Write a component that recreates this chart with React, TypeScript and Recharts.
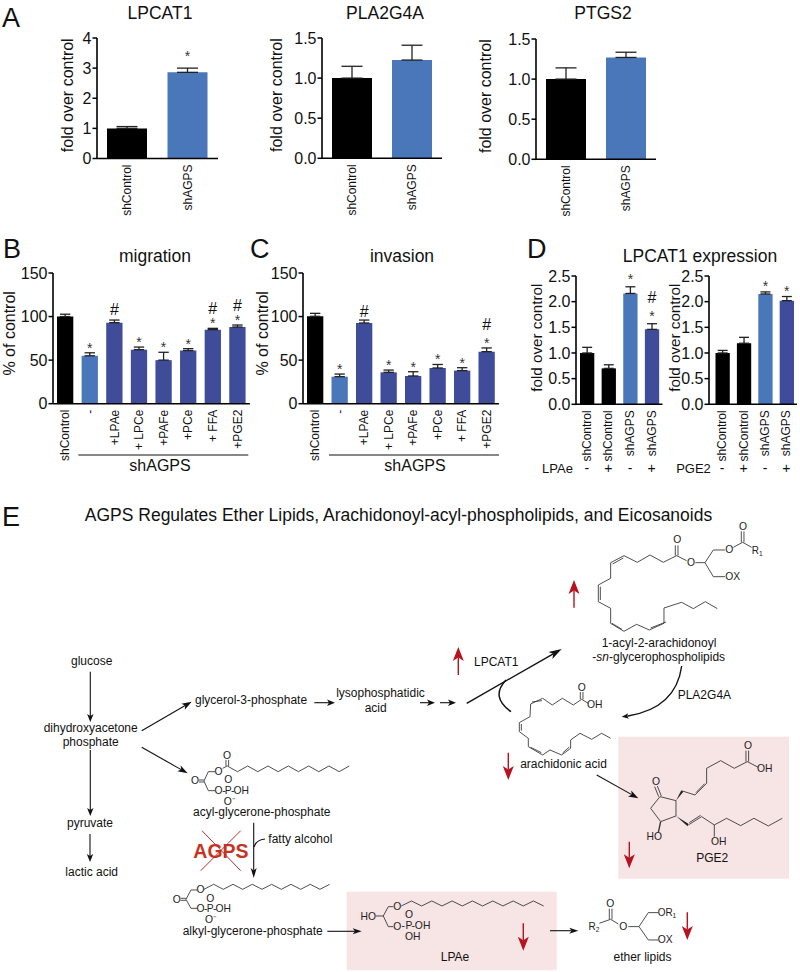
import React from "react";
import {
  Bar,
  BarChart,
  Cell,
  ErrorBar,
  LabelList,
  XAxis,
  YAxis,
} from "recharts";

const FONT = '"Liberation Sans", Arial, sans-serif';
const BLACK = "#000000";
const BLUE = "#4a77b9";
const PURPLE = "#3f4c9a";
const RED = "#b4131f";

// panel A
const controlNames = ["shControl", "shAGPS"];
const lpcat1Values = [1.0, 2.86];
const lpcat1Errors = [0.06, 0.14];
const lpcat1Marks = ["", "*"];
const pla2g4aValues = [1.0, 1.225];
const pla2g4aErrors = [0.147, 0.185];
const ptgs2Values = [1.0, 1.27];
const ptgs2Errors = [0.14, 0.065];
const twoMarks = ["", ""];
const twoColors = [BLACK, BLUE];

// panels B and C
const treatmentNames = ["shControl", "-", "+LPAe", "+ LPCe", "+PAFe", "+PCe", "+ FFA", "+PGE2"];
const treatmentColors = [BLACK, BLUE, PURPLE, PURPLE, PURPLE, PURPLE, PURPLE, PURPLE];
const migrationValues = [100, 55, 93, 62, 50, 61, 85, 88];
const migrationErrors = [2.7, 3.4, 3, 3, 9, 2.2, 1.5, 2.3];
const migrationMarks = ["", "*", "#", "*", "*", "*", "*#", "*#"];
const invasionValues = [100.3, 31, 92.6, 36, 31.8, 41, 38, 59.7];
const invasionErrors = [3.4, 3, 3.4, 2.6, 4.9, 4, 3.3, 4.3];
const invasionMarks = ["", "*", "#", "*", "*", "*", "*", "*#"];

// panel D
const lpcatNames = ["shControl", "shControl", "shAGPS", "shAGPS"];
const lpcatColors = [BLACK, BLACK, BLUE, PURPLE];
const lpaeValues = [1.0, 0.7, 2.16, 1.46];
const lpaeErrors = [0.11, 0.07, 0.13, 0.11];
const lpaeMarks = ["", "", "*", "*#"];
const pge2Values = [1.0, 1.19, 2.15, 2.02];
const pge2Errors = [0.05, 0.115, 0.04, 0.08];
const pge2Marks = ["", "", "*", "*"];
const signs = ["-", "+", "-", "+"];

const foldTicks15 = [0, 0.5, 1, 1.5];
const foldTicks4 = [0, 1, 2, 3, 4];
const percentTicks = [0, 50, 100, 150];
const foldTicks25 = [0, 0.5, 1, 1.5, 2, 2.5];

type PanelProps = {
  axisX: number;
  top: number;
  bottom: number;
  right: number;
  max: number;
  ticks: number[];
  decimals: number;
  names: string[];
  values: number[];
  errors: number[];
  colors: string[];
  marks: string[];
  barWidth: number;
  capWidth: number;
  yLabel: string;
  labelX: number;
  labelDy?: number;
  labelSize?: number;
  padLeft?: number;
  starGap?: number;
  hashGap?: number;
  hashAlone?: number;
  rowSigns?: string[];
};

const AXIS_BOX = 62;
const MARGIN_TOP = 12;
const X_AXIS_HEIGHT = 72;

function Panel(p: PanelProps) {
  const rows = p.names.map((name, i) => ({
    name,
    value: p.values[i],
    err: [0, p.errors[i]],
  }));
  const boxLeft = p.axisX - AXIS_BOX;
  const starGap = p.starGap ?? 8;
  const hashGap = p.hashGap ?? 20;
  const hashAlone = p.hashAlone ?? 11;

  const renderMarks = (l: any) => {
    const mark = p.marks[l.index];
    if (!mark) return null;
    const cx = l.x + l.width / 2;
    const errTop = l.y - (p.errors[l.index] * l.height) / p.values[l.index];
    return (
      <g fontFamily={FONT} textAnchor="middle">
        {mark.includes("*") && (
          <text x={cx} y={errTop - starGap + 8} fontSize={14} fill="#333">
            *
          </text>
        )}
        {mark.includes("#") && (
          <text
            x={cx}
            y={errTop - (mark.includes("*") ? hashGap : hashAlone) + 6}
            fontSize={16}
            fill="#111"
          >
            #
          </text>
        )}
      </g>
    );
  };

  const renderTick = (t: any) => (
    <g>
      <text
        transform={`rotate(-90 ${t.x} ${t.y - 2})`}
        x={t.x}
        y={t.y + 2}
        textAnchor="end"
        fontSize={12}
        fontFamily={FONT}
        fill="#111"
      >
        {t.payload.value}
      </text>
      {p.rowSigns && (
        <text
          x={t.x}
          y={p.bottom - p.top + MARGIN_TOP + 69}
          textAnchor="middle"
          fontSize={14}
          fontFamily={FONT}
          fill="#111"
        >
          {p.rowSigns[t.index]}
        </text>
      )}
    </g>
  );

  return (
    <div
      style={{
        position: "absolute",
        left: boxLeft,
        top: p.top - MARGIN_TOP,
      }}
    >
      <BarChart
        width={p.right - boxLeft}
        height={p.bottom - p.top + MARGIN_TOP + X_AXIS_HEIGHT}
        data={rows}
        margin={{ top: MARGIN_TOP, right: 0, bottom: 0, left: 0 }}
        barSize={p.barWidth}
        barGap={-p.barWidth}
      >
        <XAxis
          dataKey="name"
          interval={0}
          height={X_AXIS_HEIGHT}
          tickLine={false}
          axisLine={{ stroke: BLACK, strokeWidth: 1.6 }}
          tick={renderTick}
          padding={{ left: p.padLeft ?? 0, right: 0 }}
        />
        <YAxis
          width={AXIS_BOX}
          domain={[0, p.max]}
          ticks={p.ticks}
          interval={0}
          tickSize={4.5}
          tickMargin={1}
          tickLine={{ stroke: BLACK, strokeWidth: 1.5 }}
          axisLine={{ stroke: BLACK, strokeWidth: 1.6 }}
          tick={{ fontSize: 16, fontFamily: FONT, fill: "#111" }}
          tickFormatter={(v: number) => v.toFixed(p.decimals)}
          label={{
            value: p.yLabel,
            angle: -90,
            position: "center",
            dx: p.labelX - (boxLeft + AXIS_BOX / 2),
            dy: p.labelDy ?? 0,
            style: { fontSize: p.labelSize ?? 16, fontFamily: FONT, fill: "#111" },
          }}
        />
        <Bar dataKey="value" fill="none" isAnimationActive={false}>
          <ErrorBar
            dataKey="err"
            direction="y"
            width={p.capWidth}
            stroke="#222"
            strokeWidth={1.3}
            isAnimationActive={false}
          />
        </Bar>
        <Bar dataKey="value" isAnimationActive={false}>
          {rows.map((r, i) => (
            <Cell key={i} fill={p.colors[i]} />
          ))}
          <LabelList dataKey="value" content={renderMarks} />
        </Bar>
      </BarChart>
    </div>
  );
}

function Arrow(props: {
  x1: number;
  y1: number;
  x2: number;
  y2: number;
  len?: number;
  wide?: number;
  color?: string;
  sw?: number;
}) {
  const { x1, y1, x2, y2, len = 8, wide = 3.2, color = "#111", sw = 1.1 } = props;
  const d = Math.hypot(x2 - x1, y2 - y1);
  const ux = (x2 - x1) / d;
  const uy = (y2 - y1) / d;
  const bx = x2 - ux * len;
  const by = y2 - uy * len;
  const nx = x2 - ux * len * 0.75;
  const ny = y2 - uy * len * 0.75;
  return (
    <g>
      <line x1={x1} y1={y1} x2={nx} y2={ny} stroke={color} strokeWidth={sw} />
      <polygon
        points={`${x2},${y2} ${bx - uy * wide},${by + ux * wide} ${nx},${ny} ${bx + uy * wide},${by - ux * wide}`}
        fill={color}
      />
    </g>
  );
}

const RedArrow = (p: { x: number; y1: number; y2: number }) => (
  <Arrow x1={p.x} y1={p.y1} x2={p.x} y2={p.y2} len={14} wide={5.5} color={RED} sw={1.4} />
);

const Label = (p: {
  x: number;
  y: number;
  size?: number;
  anchor?: "start" | "middle" | "end";
  children: React.ReactNode;
}) => (
  <text
    x={p.x}
    y={p.y}
    fontSize={p.size ?? 12}
    textAnchor={p.anchor ?? "middle"}
    fill="#111"
  >
    {p.children}
  </text>
);

const Atom = (p: { x: number; y: number; t: string; anchor?: "start" | "middle" }) => (
  <text
    x={p.x}
    y={p.y}
    fontSize={31}
    textAnchor={p.anchor ?? "middle"}
    dominantBaseline="central"
    fill="#222"
  >
    {p.t}
  </text>
);

const Sub = (p: { x: number; y: number; base: string; sub: string }) => (
  <text x={p.x} y={p.y} fontSize={30} textAnchor="middle" dominantBaseline="central" fill="#222">
    {p.base}
    <tspan fontSize={20} dy={7}>
      {p.sub}
    </tspan>
  </text>
);

const Bond = (p: { d: string; w?: number }) => (
  <path d={p.d} fill="none" stroke="#333" strokeWidth={p.w ?? 2.6} strokeLinejoin="round" />
);

const zigzag = (x0: number, y0: number, dx: number, dy: number, n: number) => {
  let d = `M${x0} ${y0}`;
  for (let i = 1; i <= n; i++) d += ` L${x0 + dx * i} ${i % 2 ? y0 + dy : y0}`;
  return d;
};

function Diagram() {
  return (
    <svg
      width={800}
      height={972}
      style={{ position: "absolute", left: 0, top: 0 }}
      fontFamily={FONT}
    >
      <rect x={618.3} y={736.7} width={170.7} height={142} fill="#f7e4e4" />
      <rect x={346.7} y={891.7} width={210} height={78.5} fill="#f7e4e4" />

      {/* panel letters and titles */}
      <Label x={2} y={27} size={27} anchor="start">A</Label>
      <Label x={3} y={258} size={27} anchor="start">B</Label>
      <Label x={250} y={258} size={27} anchor="start">C</Label>
      <Label x={527} y={258} size={27} anchor="start">D</Label>
      <Label x={2} y={526} size={27} anchor="start">E</Label>
      <Label x={160} y={19} size={17.5}>LPCAT1</Label>
      <Label x={385} y={19} size={17.5}>PLA2G4A</Label>
      <Label x={603} y={19} size={17.5}>PTGS2</Label>
      <Label x={155} y={262} size={17.5}>migration</Label>
      <Label x={402} y={262} size={17.5}>invasion</Label>
      <Label x={700} y={262} size={17.5}>LPCAT1 expression</Label>
      <line x1={78.3} y1={455} x2={248.3} y2={455} stroke="#111" strokeWidth={1.2} />
      <line x1={329} y1={455} x2={499} y2={455} stroke="#111" strokeWidth={1.2} />
      <Label x={160} y={471} size={16}>shAGPS</Label>
      <Label x={415} y={471} size={16}>shAGPS</Label>
      <Label x={557.5} y={473} size={13}>LPAe</Label>
      <Label x={693.5} y={473} size={13}>PGE2</Label>

      <Label x={398.5} y={521} size={17.5}>
        AGPS Regulates Ether Lipids, Arachidonoyl-acyl-phospholipids, and Eicosanoids
      </Label>

      {/* pathway text */}
      <Label x={91.7} y={665}>glucose</Label>
      <Label x={90.7} y={732}>dihydroxyacetone</Label>
      <Label x={90.7} y={746}>phosphate</Label>
      <Label x={90} y={827}>pyruvate</Label>
      <Label x={91.7} y={876}>lactic acid</Label>
      <Label x={195} y={703.5} anchor="start">glycerol-3-phosphate</Label>
      <Label x={380.5} y={697}>lysophosphatidic</Label>
      <Label x={375.7} y={712}>acid</Label>
      <Label x={474} y={666} anchor="start">LPCAT1</Label>
      <Label x={659} y={647}>1-acyl-2-arachidonoyl</Label>
      <Label x={658.7} y={661}>
        -<tspan fontStyle="italic">sn</tspan>-glycerophospholipids
      </Label>
      <Label x={677.7} y={698.5} anchor="start">PLA2G4A</Label>
      <Label x={563.5} y={768}>arachidonic acid</Label>
      <Label x={712.3} y={861.5}>PGE2</Label>
      <Label x={261.7} y={816}>acyl-glycerone-phosphate</Label>
      <Label x={268.3} y={843} anchor="start">fatty alcohol</Label>
      <Label x={252.7} y={934.5}>alkyl-glycerone-phosphate</Label>
      <Label x={455} y={960.5}>LPAe</Label>
      <Label x={642.5} y={960.5}>ether lipids</Label>

      {/* AGPS crossed out */}
      <text x={221} y={858} fontSize={19.5} fontWeight="bold" fill="#c8331f" textAnchor="middle">
        AGPS
      </text>
      <line x1={202} y1={830.7} x2={240.7} y2={870.7} stroke="#c0272d" strokeWidth={1} />
      <line x1={240.7} y1={830.7} x2={200.7} y2={870.7} stroke="#c0272d" strokeWidth={1} />

      {/* pathway arrows */}
      <Arrow x1={90.3} y1={671.7} x2={90.3} y2={722} />
      <Arrow x1={141.7} y1={730.7} x2={191.7} y2={701.7} len={10} wide={3.4} />
      <Arrow x1={314.3} y1={702.7} x2={335} y2={702.7} />
      <Arrow x1={420} y1={702.7} x2={435} y2={702.7} />
      <Arrow x1={440} y1={702.7} x2={456} y2={702.7} />
      <Arrow x1={466.7} y1={703.3} x2={561.7} y2={649} len={13} wide={4} sw={1.4} />
      <Arrow x1={90.3} y1={750} x2={90.3} y2={816} />
      <Arrow x1={90} y1={834} x2={90} y2={862} />
      <Arrow x1={141.7} y1={747.3} x2={187.7} y2={773.3} len={10} wide={3.4} />
      <Arrow x1={253.7} y1={822.7} x2={253.7} y2={878} len={10} wide={3} />
      <Arrow x1={327.3} y1={931.3} x2={361.7} y2={931.3} len={9} wide={3} />
      <Arrow x1={596.7} y1={775} x2={638.3} y2={798.3} len={10} wide={3.4} />
      <Arrow x1={550} y1={930.7} x2={578.3} y2={930.7} len={9} wide={3} />
      <path d="M511 711.7 Q490 697 506 680" fill="none" stroke="#111" strokeWidth={1.5} />
      <path d="M681.7 666 Q676 708 628 716" fill="none" stroke="#111" strokeWidth={1.4} />
      <Arrow x1={628} y1={716} x2={621.7} y2={716.7} len={7} wide={2.8} />
      <path d="M254 847 Q256 840 265 839" fill="none" stroke="#111" strokeWidth={1.2} />

      <RedArrow x={458.3} y1={675} y2={647} />
      <RedArrow x={574} y1={607.7} y2={580} />
      <RedArrow x={508.3} y1={752.7} y2={780} />
      <RedArrow x={629.3} y1={841.7} y2={868.3} />
      <RedArrow x={523.3} y1={923.3} y2={950.7} />
      <RedArrow x={687.3} y1={912.3} y2={940} />

      {/* right half molecules */}
      <g transform="translate(400 490) scale(0.3333)">
        {/* arachidonoyl phospholipid */}
        <Bond d="M952 356 L916 335 L880 356 L845 337 L792 354 L792 400 L748 420 L710 403 L672 424 L632 400 L632 355 L595 335 L595 285 L632 265 L632 218 L672 197 L712 217 L750 195 L790 217 L830 197 L860 212" />
        <Bond d="M798 396 L752 414 M666 418 L636 400 M601 330 L601 290 M670 204 L638 222" />
        <Bond d="M826 197 L826 166 M834 197 L834 166" />
        <Bond d="M886 218 L915 218 L940 180 L975 180 M915 218 L940 260 L975 260 M1000 172 L1028 157 L1055 172" />
        <Bond d="M1024 157 L1024 124 M1032 157 L1032 124" />
        <Atom x={832} y={150} t="O" />
        <Atom x={873} y={219} t="O" />
        <Atom x={988} y={179} t="O" />
        <Atom x={1029} y={109} t="O" />
        <Sub x={1072} y={181} base="R" sub="1" />
        <Atom x={998} y={260} t="OX" />

        {/* arachidonic acid */}
        <Bond d="M565 640 L545 628 L520 645 L487 625 L457 645 L428 625 L392 642 L390 680 L358 698 L358 725 L385 745 L385 770 L428 795 L450 780 L485 795 L512 775 L512 750 L540 730 L575 748 L605 730 L632 745" />
        <Bond d="M396 636 L426 632 M364 702 L364 722 M392 772 L424 788 M488 789 L508 771" />
        <Bond d="M541 628 L541 606 M549 628 L549 606" />
        <Atom x={545} y={592} t="O" />
        <Atom x={584} y={645} t="OH" />

        {/* PGE2 */}
        <g transform="translate(0 720)">
          <Bond d="M780 200 L828 212 L828 258 L782 275 L752 235 Z" />
          <Bond d="M776 200 L764 170 M784 198 L772 168" />
          <Bond d="M847 183 L885 195 L920 160 L920 115 L962 92 L1003 115 L1042 95 L1075 112 M1042 95" />
          <Bond d="M888 188 L914 161 M1038 95 L1038 62 M1046 95 L1046 62" />
          <polygon points="828,212 844,181 850,185" fill="#222" />
          <polygon points="828,258 865,281 863,289" fill="#222" />
          <Bond d="M865 285 L905 260 L943 285 L980 265 L1022 287 L1062 265 L1105 288 L1147 265 M943 285 L943 320" />
          <Bond d="M868 278 L902 256" />
          <Bond d="M782 275 L775 308" w={4} />
          <Atom x={768} y={155} t="O" />
          <Atom x={1044} y={47} t="O" />
          <Atom x={1094} y={117} t="OH" />
          <Atom x={956} y={335} t="OH" />
          <Atom x={763} y={320} t="HO" />
        </g>

        {/* ether lipids */}
        <g transform="translate(0 720)">
          <Bond d="M598 580 L632 568 L655 582 M685 590 L717 590 L745 548 L775 548 M717 590 L745 630 L775 630" />
          <Bond d="M628 568 L628 536 M636 568 L636 536" />
          <Atom x={631} y={520} t="O" />
          <Atom x={670} y={590} t="O" />
          <Sub x={582} y={591} base="R" sub="2" />
          <Sub x={801} y={549} base="OR" sub="1" />
          <Atom x={796} y={630} t="OX" />
        </g>
      </g>

      {/* left half molecules */}
      <g transform="translate(0 730) scale(0.3333)">
        {/* acyl-glycerone-phosphate */}
        <Bond d="M597 150 L612 150 M597 156 L612 156 M612 153 L625 125 L645 125 M612 153 L625 182 L645 182 M668 115 L682 108" />
        <Bond d="M678 108 L678 90 M686 108 L686 90" />
        <Bond d={zigzag(682, 108, 30.5, 17, 12)} />
        <Atom x={585} y={153} t="O" />
        <Atom x={656} y={124} t="O" />
        <Atom x={681} y={77} t="O" />
        <Atom x={656} y={182} t="O" />
        <Atom x={672} y={182} t="-" />
        <Atom x={685} y={182} t="P" />
        <Atom x={698} y={182} t="-" />
        <Atom x={724} y={182} t="OH" />
        <Atom x={685} y={150} t="O" />
        <Atom x={688} y={214} t="O⁻" />

        {/* alkyl-glycerone-phosphate */}
        <Bond d="M542 505 L558 505 M542 511 L558 511 M558 508 L573 480 L592 480 M558 508 L573 535 L592 535" />
        <Bond d={zigzag(612, 478, 29, -15, 13)} />
        <Atom x={530} y={508} t="O" />
        <Atom x={602} y={480} t="O" />
        <Atom x={602} y={536} t="O" />
        <Atom x={617} y={536} t="-" />
        <Atom x={631} y={536} t="P" />
        <Atom x={644} y={536} t="-" />
        <Atom x={670} y={536} t="OH" />
        <Atom x={631} y={505} t="O" />
        <Atom x={632} y={568} t="O⁻" />

        {/* LPAe */}
        <Bond d="M1128 558 L1150 558 L1165 530 L1180 530 M1150 558 L1165 590 L1180 590" />
        <Bond d={zigzag(1204, 528, 30.5, -15, 14)} />
        <Atom x={1105} y={560} t="HO" />
        <Atom x={1192} y={530} t="O" />
        <Atom x={1192} y={590} t="O" />
        <Atom x={1210} y={588} t="-" />
        <Atom x={1227} y={588} t="P" />
        <Atom x={1240} y={588} t="-" />
        <Atom x={1268} y={588} t="OH" />
        <Atom x={1227} y={555} t="O" />
        <Atom x={1238} y={621} t="OH" />
      </g>
    </svg>
  );
}

export default function App() {
  return (
    <div
      style={{
        position: "absolute",
        left: 0,
        top: 0,
        width: 800,
        height: 972,
        background: "#fff",
        overflow: "hidden",
        fontFamily: FONT,
      }}
    >
      <Diagram />
      <Panel axisX={97} top={37.5} bottom={158} right={218} max={4} ticks={foldTicks4} decimals={0}
        names={controlNames} values={lpcat1Values} errors={lpcat1Errors} colors={twoColors} marks={lpcat1Marks}
        barWidth={40} capWidth={10.5} yLabel="fold over control" labelX={67.7} labelDy={-3} starGap={15} />
      <Panel axisX={322} top={37.7} bottom={158} right={442} max={1.5} ticks={foldTicks15} decimals={1}
        names={controlNames} values={pla2g4aValues} errors={pla2g4aErrors} colors={twoColors} marks={twoMarks}
        barWidth={40} capWidth={10.5} yLabel="fold over control" labelX={276.7} labelDy={-3} />
      <Panel axisX={536} top={39} bottom={159.3} right={656} max={1.5} ticks={foldTicks15} decimals={1}
        names={controlNames} values={ptgs2Values} errors={ptgs2Errors} colors={twoColors} marks={twoMarks}
        barWidth={40} capWidth={10.5} yLabel="fold over control" labelX={485} labelDy={-3} />
      <Panel axisX={53.4} top={273.3} bottom={404} right={250.3} max={150} ticks={percentTicks} decimals={0}
        names={treatmentNames} values={migrationValues} errors={migrationErrors} colors={treatmentColors} marks={migrationMarks}
        barWidth={16.3} capWidth={5.2} yLabel="% of control" labelX={10} labelDy={-5} />
      <Panel axisX={302.6} top={273.3} bottom={404} right={498.6} max={150} ticks={percentTicks} decimals={0}
        names={treatmentNames} values={invasionValues} errors={invasionErrors} colors={treatmentColors} marks={invasionMarks}
        barWidth={16.3} capWidth={5.2} yLabel="% of control" labelX={261.7} labelDy={-5} hashGap={24} hashAlone={9.5} />
      <Panel axisX={576} top={275.7} bottom={404} right={662.5} max={2.5} ticks={foldTicks25} decimals={1}
        names={lpcatNames} values={lpaeValues} errors={lpaeErrors} colors={lpcatColors} marks={lpaeMarks}
        barWidth={14.3} capWidth={5} yLabel="fold over control" labelX={536.7} labelDy={-2.5} labelSize={15.2} starGap={11} hashGap={27}
        rowSigns={signs} />
      <Panel axisX={709.3} top={275.7} bottom={404} right={797.4} max={2.5} ticks={foldTicks25} decimals={1} padLeft={2.5}
        names={lpcatNames} values={pge2Values} errors={pge2Errors} colors={lpcatColors} marks={pge2Marks}
        barWidth={14.3} capWidth={5} yLabel="fold over control" labelX={675} labelDy={-2.5} labelSize={15.2} starGap={9}
        rowSigns={signs} />
    </div>
  );
}
